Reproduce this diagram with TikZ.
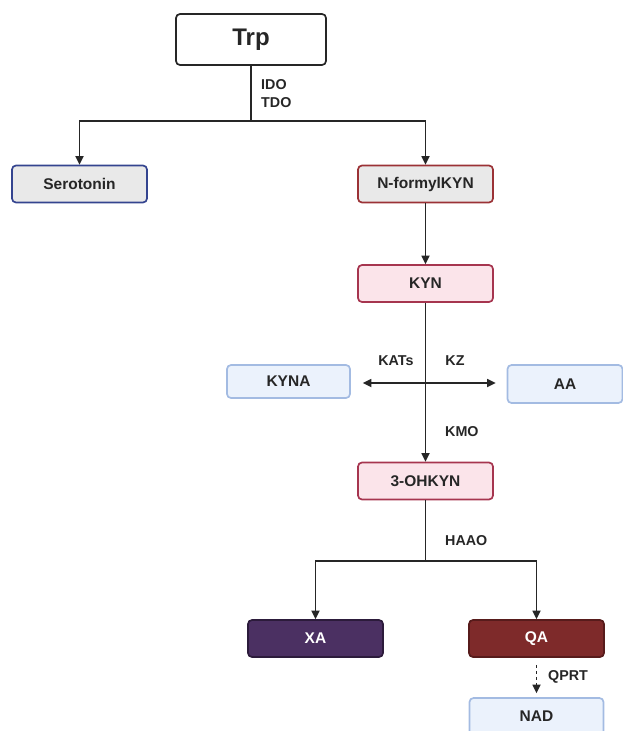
\documentclass[tikz,border=0pt]{standalone}
\usepackage{fontspec}
\setmainfont{Liberation Sans}
\usetikzlibrary{arrows.meta}
\definecolor{ink}{HTML}{262626}
\definecolor{grayfill}{HTML}{E9E9E9}
\definecolor{seroline}{HTML}{34448F}
\definecolor{formline}{HTML}{9B3236}
\definecolor{pinkfill}{HTML}{FBE4EA}
\definecolor{pinkline}{HTML}{A6354F}
\definecolor{bluefill}{HTML}{EBF2FC}
\definecolor{blueline}{HTML}{A3BBE2}
\definecolor{xafill}{HTML}{4B3062}
\definecolor{xaline}{HTML}{2C1B3B}
\definecolor{qafill}{HTML}{7E2A2A}
\definecolor{qaline}{HTML}{571B1B}
\begin{document}
\begin{tikzpicture}%
	[x=1pt, y=-1pt,
	edge/.style={color=ink, line width=1.7pt},
	arr/.style={edge, -{Triangle[length=8.5pt,width=8pt]}},
	box/.style={draw, rounded corners=4pt, line width=1.7pt, inner sep=0pt,
		minimum width=135pt, minimum height=37pt, text=ink,
		font=\bfseries\fontsize{15.5}{18}\selectfont},
	pinkbox/.style={box, fill=pinkfill, draw=pinkline},
	bluebox/.style={box, fill=bluefill, draw=blueline},
	enz/.style={text=ink, inner sep=0pt, align=left,
		font=\bfseries\fontsize{14.3}{18}\selectfont}]
\useasboundingbox (0,0) rectangle (622,731);
%%
%% Boxes
%%
\node[box, fill=white, draw=ink, minimum width=150pt, minimum height=51pt,
	font=\bfseries\fontsize{24}{26}\selectfont] (trp) at (251,39.5) {Trp};
\node[box, fill=grayfill, draw=seroline] (sero) at (79.5,184) {Serotonin};
\node[box, fill=grayfill, draw=formline] (nfkyn) at (425.5,184) {N-formylKYN};
\node[pinkbox] (kyn) at (425.5,283.5) {KYN};
\node[bluebox, minimum width=123pt, minimum height=33pt] (kyna) at (288.5,381.5) {KYNA};
\node[bluebox, minimum width=115pt, minimum height=38pt] (aa) at (565,384) {AA};
\node[pinkbox] (ohkyn) at (425.5,481) {3-OHKYN};
\node[box, fill=xafill, draw=xaline, text=white] (xa) at (315.5,638.5) {XA};
\node[box, fill=qafill, draw=qaline, text=white] (qa) at (536.5,638.5) {QA};
\node[bluebox, minimum width=134pt] (nad) at (536.5,716.5) {NAD};
%%
%% Enzymes
%%
\node[enz, anchor=west] (idotdo) at (261,94) {IDO\\TDO};
\node[enz] (kats) at (396,361) {KATs};
\node[enz] (kz) at (455,361) {KZ};
\node[enz, anchor=west] (kmo) at (445,432) {KMO};
\node[enz, anchor=west] (haao) at (445,541) {HAAO};
\node[enz, anchor=west] (qprt) at (548,677) {QPRT};
%%
%% Connectors
%%
\coordinate (split) at (251,121);
\coordinate (hub) at (425.5,383);
\coordinate (split2) at (425.5,561);
\draw[edge] (trp) -- (split);
\draw[arr] (split) -| (sero);
\draw[arr] (split) -| (nfkyn);
\draw[arr] (nfkyn) -- (kyn);
\draw[arr] (kyn) -- (ohkyn);
\draw[arr, shorten >=12pt] (hub) -- (hub -| kyna.east);
\draw[arr, shorten >=11pt] (hub) -- (hub -| aa.west);
\draw[edge] (ohkyn) -- (split2);
\draw[arr] (split2) -| (xa);
\draw[arr] (split2) -| (qa);
\draw[arr, dash pattern=on 3pt off 3pt, shorten <=7pt, shorten >=4pt] (qa) -- (nad);
%%
\end{tikzpicture}
\end{document}
